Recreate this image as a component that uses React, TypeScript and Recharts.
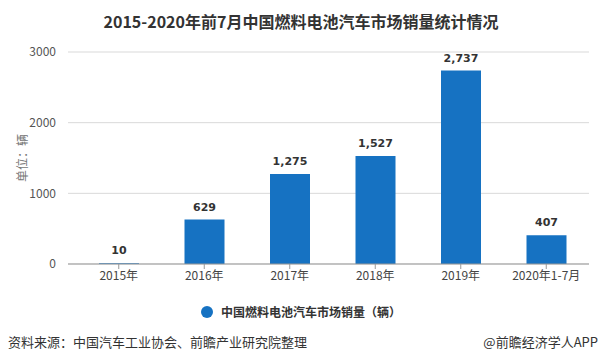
import { BarChart, Bar, XAxis, YAxis, CartesianGrid, LabelList } from "recharts";

const categories = ["2015年", "2016年", "2017年", "2018年", "2019年", "2020年1-7月"];
const sales = [10, 629, 1275, 1527, 2737, 407];
const yTicks = [0, 1000, 2000, 3000];

const data = categories.map((name, i) => ({ name, sales: sales[i] }));

const CJK = '"Noto Sans CJK SC", "Noto Sans", sans-serif';
const BLUE = "#1672c2";

export default function App() {
  return (
    <div
      style={{
        position: "absolute",
        left: 0,
        top: 0,
        width: 602,
        height: 364,
        background: "#fff",
        fontFamily: CJK,
      }}
    >
      <div
        style={{
          position: "absolute",
          top: 9,
          left: 0,
          width: 602,
          textAlign: "center",
          fontSize: 16,
          fontWeight: 700,
          color: "#333",
          lineHeight: "24px",
        }}
      >
        2015-2020年前7月中国燃料电池汽车市场销量统计情况
      </div>

      <BarChart
        width={602}
        height={364}
        data={data}
        margin={{ top: 52, right: 13, left: 8, bottom: 70 }}
        style={{ position: "absolute", left: 0, top: 0 }}
      >
        <CartesianGrid vertical={false} stroke="#d9d9d9" />
        <XAxis
          dataKey="name"
          height={30}
          padding={{ left: 8, right: 0 }}
          tick={{ fontSize: 12, fill: "#444", fontFamily: CJK }}
          tickLine={{ stroke: "#999" }}
          tickSize={5}
          axisLine={{ stroke: "#999" }}
        />
        <YAxis
          width={60}
          domain={[0, 3000]}
          ticks={yTicks}
          tick={{ fontSize: 12, fill: "#555", fontFamily: CJK }}
          tickLine={false}
          axisLine={false}
          tickMargin={6}
        />
        <Bar dataKey="sales" fill={BLUE} barSize={40} isAnimationActive={false}>
          <LabelList
            dataKey="sales"
            position="top"
            offset={9}
            formatter={(v: number) => v.toLocaleString("en-US")}
            style={{
              fontSize: 11,
              fontWeight: 700,
              fill: "#333",
              fontFamily: '"DejaVu Sans", sans-serif',
            }}
          />
        </Bar>
      </BarChart>

      <div
        style={{
          position: "absolute",
          left: 21,
          top: 158,
          transform: "translate(-50%, -50%) rotate(-90deg)",
          fontSize: 12,
          color: "#777",
          whiteSpace: "nowrap",
        }}
      >
        单位：辆
      </div>

      <div
        style={{
          position: "absolute",
          top: 302,
          left: 0,
          width: 602,
          display: "flex",
          justifyContent: "center",
          alignItems: "center",
          fontSize: 12,
          fontWeight: 700,
          color: "#333",
        }}
      >
        <span
          style={{
            display: "inline-block",
            width: 12,
            height: 12,
            borderRadius: 6,
            background: BLUE,
            marginRight: 8,
          }}
        />
        <span style={{ lineHeight: "20px" }}>中国燃料电池汽车市场销量（辆）</span>
      </div>

      <div
        style={{
          position: "absolute",
          top: 333,
          left: 8,
          fontSize: 13,
          color: "#333",
          lineHeight: "18px",
        }}
      >
        资料来源：中国汽车工业协会、前瞻产业研究院整理
      </div>
      <div
        style={{
          position: "absolute",
          top: 333,
          right: 4,
          fontSize: 13,
          color: "#333",
          lineHeight: "18px",
        }}
      >
        @前瞻经济学人APP
      </div>
    </div>
  );
}
